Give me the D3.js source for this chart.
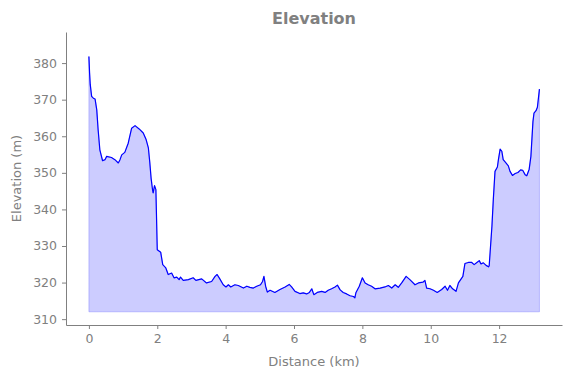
<!DOCTYPE html>
<html><head><meta charset="utf-8">
<script src="https://cdn.jsdelivr.net/npm/d3@7"></script>
<style>body{margin:0;background:#fff}svg{display:block}text{font-family:"DejaVu Sans",sans-serif}</style>
</head><body>
<script>
const distKm = [0.00,0.02,0.04,0.08,0.13,0.18,0.23,0.27,0.32,0.40,0.47,0.52,0.66,0.76,0.86,0.91,0.96,1.05,1.15,1.25,1.35,1.47,1.59,1.67,1.74,1.78,1.82,1.86,1.88,1.92,1.96,2.00,2.10,2.16,2.25,2.32,2.42,2.49,2.57,2.64,2.68,2.76,2.91,3.05,3.13,3.30,3.44,3.59,3.69,3.75,3.83,3.93,4.01,4.08,4.15,4.27,4.37,4.52,4.62,4.71,4.81,4.91,5.02,5.08,5.12,5.17,5.22,5.30,5.44,5.59,5.74,5.86,5.93,6.03,6.17,6.27,6.37,6.45,6.52,6.58,6.68,6.81,6.91,7.00,7.10,7.20,7.27,7.35,7.44,7.54,7.64,7.74,7.78,7.81,7.91,8.00,8.08,8.17,8.27,8.37,8.52,8.66,8.76,8.86,8.96,9.05,9.15,9.28,9.39,9.54,9.64,9.77,9.83,9.88,9.98,10.08,10.19,10.32,10.42,10.49,10.56,10.64,10.74,10.81,10.86,10.94,11.00,11.10,11.20,11.27,11.35,11.42,11.47,11.54,11.62,11.69,11.71,11.79,11.83,11.88,11.95,11.98,12.03,12.08,12.12,12.20,12.27,12.32,12.39,12.47,12.55,12.63,12.69,12.76,12.81,12.88,12.93,12.99,13.02,13.08,13.12,13.15,13.18];
const elevM = [381.8,377.3,374.1,370.9,370.4,370.2,367.2,361.8,356.3,353.3,353.6,354.5,354.2,353.6,352.7,353.6,354.9,355.6,358.1,362.2,362.9,362.0,360.9,359.2,356.8,353.0,348.5,345.5,344.5,346.5,345.4,329.0,328.3,324.9,324.0,322.2,322.6,321.3,321.5,320.8,321.5,320.6,320.8,321.3,320.6,321.0,319.9,320.3,321.7,322.2,321.0,319.4,318.8,319.4,318.8,319.4,319.2,318.5,319.0,318.7,318.5,319.0,319.4,320.3,321.7,319.0,317.4,317.9,317.3,318.1,318.8,319.5,318.8,317.6,317.0,317.2,316.9,317.3,318.3,316.7,317.3,317.6,317.3,317.9,318.3,318.8,319.3,318.0,317.3,316.9,316.4,316.2,315.8,317.2,319.0,321.3,319.9,319.4,319.0,318.3,318.5,318.8,319.2,318.5,319.4,318.7,319.9,321.7,320.8,319.4,319.9,320.1,320.6,318.5,318.3,317.9,317.3,318.1,319.0,317.9,319.2,318.3,317.6,319.9,320.6,321.7,325.2,325.5,325.5,324.9,325.5,326.0,325.1,325.4,324.7,324.3,324.6,335.4,342.6,350.4,351.6,353.6,356.5,355.9,353.6,352.7,351.9,350.4,349.3,349.8,350.1,350.8,350.7,349.5,349.2,351.0,354.5,364.0,366.3,367.0,367.9,370.4,372.9];
const fillBase = 312;
const xTicks = [0,2,4,6,8,10,12];
const yTicks = [310,320,330,340,350,360,370,380];
const titleText = "Elevation";
const xLabel = "Distance (km)";
const yLabel = "Elevation (m)";

const W = 571, H = 378;
const m = {left: 66, right: 9, top: 32, bottom: 53};
const grey = "#808080";
const data = distKm.map((d, i) => ({x: d, y: elevM[i]}));

const x = d3.scaleLinear().domain([-0.67, 13.84]).range([m.left, W - m.right]);
const y = d3.scaleLinear().domain([308.4, 388.5]).range([H - m.bottom, m.top]);

const svg = d3.select("body").append("svg").attr("width", W).attr("height", H);

svg.append("path").datum(data)
  .attr("d", d3.area().x(d => x(d.x)).y0(y(fillBase)).y1(d => y(d.y)))
  .attr("fill", "rgba(0,0,255,0.2)").attr("stroke", "rgba(0,0,255,0.2)").attr("stroke-width", 1);

svg.append("path").datum(data)
  .attr("d", d3.line().x(d => x(d.x)).y(d => y(d.y)))
  .attr("fill", "none").attr("stroke", "#0000ff").attr("stroke-width", 1.2).attr("stroke-linejoin", "round");

const xAxis = svg.append("g").attr("transform", `translate(0,${H - m.bottom})`)
  .call(d3.axisBottom(x).tickValues(xTicks).tickSize(4).tickPadding(5).tickSizeOuter(0));
const yAxis = svg.append("g").attr("transform", `translate(${m.left},0)`)
  .call(d3.axisLeft(y).tickValues(yTicks).tickSize(4).tickPadding(5).tickSizeOuter(0));
[xAxis, yAxis].forEach(g => {
  g.selectAll("path,line").attr("stroke", grey);
  g.selectAll("text").attr("fill", grey).style("font-size", "12.5px").style("font-family", "DejaVu Sans");
});

svg.append("text").attr("x", (m.left + W - m.right) / 2).attr("y", 24)
  .attr("text-anchor", "middle").attr("fill", grey).style("font-size", "16px").style("font-weight", "bold")
  .text(titleText);
svg.append("text").attr("x", (m.left + W - m.right) / 2).attr("y", 366)
  .attr("text-anchor", "middle").attr("fill", grey).style("font-size", "13px")
  .text(xLabel);
svg.append("text").attr("transform", `translate(21,${(m.top + H - m.bottom) / 2}) rotate(-90)`)
  .attr("text-anchor", "middle").attr("fill", grey).style("font-size", "13px")
  .text(yLabel);
</script>
</body></html>
